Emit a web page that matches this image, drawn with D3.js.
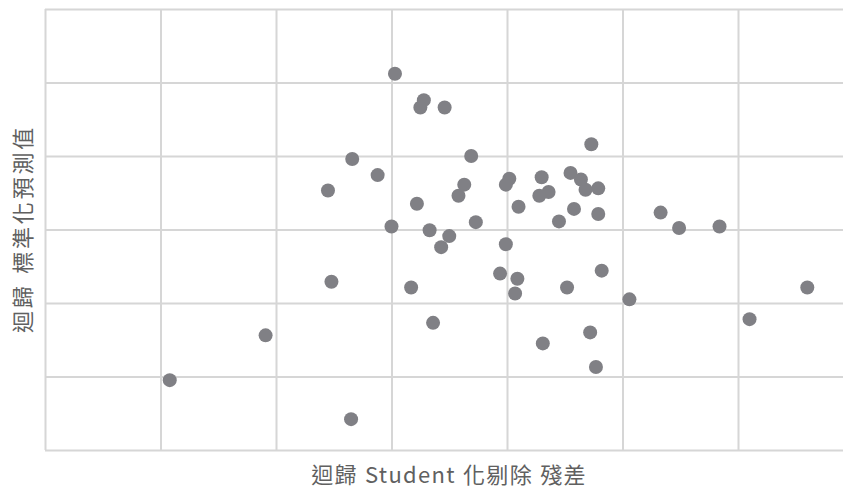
<!DOCTYPE html>
<html>
<head>
<meta charset="utf-8">
<script src="https://cdn.jsdelivr.net/npm/d3@7"></script>
<style>
  body { margin: 0; background: #fff; }
  .grid line { stroke: #d6d6d6; stroke-width: 2; }
  .grid path { display: none; }
  .title { font-family: "Noto Sans CJK TC", "Noto Sans", sans-serif; fill: #606060; font-size: 22px; }
</style>
</head>
<body>
<svg></svg>
<script>
// studentized deleted residuals (x) vs standardized predicted values (y)
const residuals = [
  -2.92, -2.09, -1.35, -1.52, -1.55, -1.34, -1.12, -0.97, -0.72, -0.75,
  -0.54, -0.31, -0.37, -0.42, -0.78, -0.27, -1.00, -0.67, -0.50, -0.57,
  -0.83, -0.64, -0.01, -0.06, 0.09, 0.07, 0.52, 0.82, 1.06, 0.31,
  0.72, 0.77, 2.10, 2.60, 0.73, 0.02, -0.01, 0.30, 0.55, 0.64,
  0.68, 0.79, 0.36, 0.28, 0.10, 0.58, 0.79, 0.45, 1.33, 1.49, 1.84
];
const predicted = [
  -2.05, -1.44, -2.58, -0.71, 0.53, 0.96, 0.74, 2.12, 1.76, 1.66,
  1.66, 1.00, 0.61, 0.46, 0.35, 0.10, 0.04, -0.01, -0.09, -0.24,
  -0.79, -1.27, -0.20, -0.60, -0.67, -0.87, -0.79, -0.56, -0.95, -1.55,
  -1.40, -1.87, -1.22, -0.79, 1.16, 0.69, 0.61, 0.71, 0.77, 0.68,
  0.54, 0.56, 0.51, 0.46, 0.31, 0.28, 0.21, 0.11, 0.23, 0.02, 0.04
];
const xTicks = [-4, -3, -2, -1, 0, 1, 2, 3];
const yTicks = [-3, -2, -1, 0, 1, 2, 3];
const xTitle = '迴歸 Student 化剔除 殘差';
const yTitle = '迴歸 標準化預測值';

const size = {w: 843, h: 491};
const plot = {l: 45, t: 9, r: 853.5, b: 450};

const svg = d3.select('svg')
    .attr('width', size.w)
    .attr('height', size.h);

const x = d3.scaleLinear().domain([-4, 3]).range([plot.l, plot.r]);
const y = d3.scaleLinear().domain([-3, 3]).range([plot.b, plot.t]);

// vertical grid lines
svg.append('g').classed('grid', true)
    .attr('transform', `translate(0, ${plot.b})`)
    .call(d3.axisBottom(x).tickValues(xTicks).tickSize(-(plot.b - plot.t)).tickFormat(''));

// horizontal grid lines
svg.append('g').classed('grid', true)
    .attr('transform', `translate(${plot.l}, 0)`)
    .call(d3.axisLeft(y).tickValues(yTicks).tickSize(-(plot.r - plot.l)).tickFormat(''));

// points
svg.append('g')
    .selectAll('circle')
    .data(residuals.map((d, i) => ({x: d, y: predicted[i]})))
    .join('circle')
    .attr('cx', d => x(d.x))
    .attr('cy', d => y(d.y))
    .attr('r', 7)
    .style('fill', '#808085');

// axis titles
svg.append('text').classed('title', true)
    .attr('x', 449)
    .attr('y', 483)
    .attr('text-anchor', 'middle')
    .style('letter-spacing', '1.3px')
    .style('word-spacing', '1px')
    .text(xTitle);

svg.append('text').classed('title', true)
    .attr('transform', `translate(31, 229) rotate(-90)`)
    .attr('text-anchor', 'middle')
    .style('letter-spacing', '2.8px')
    .style('word-spacing', '2px')
    .text(yTitle);
</script>
</body>
</html>
